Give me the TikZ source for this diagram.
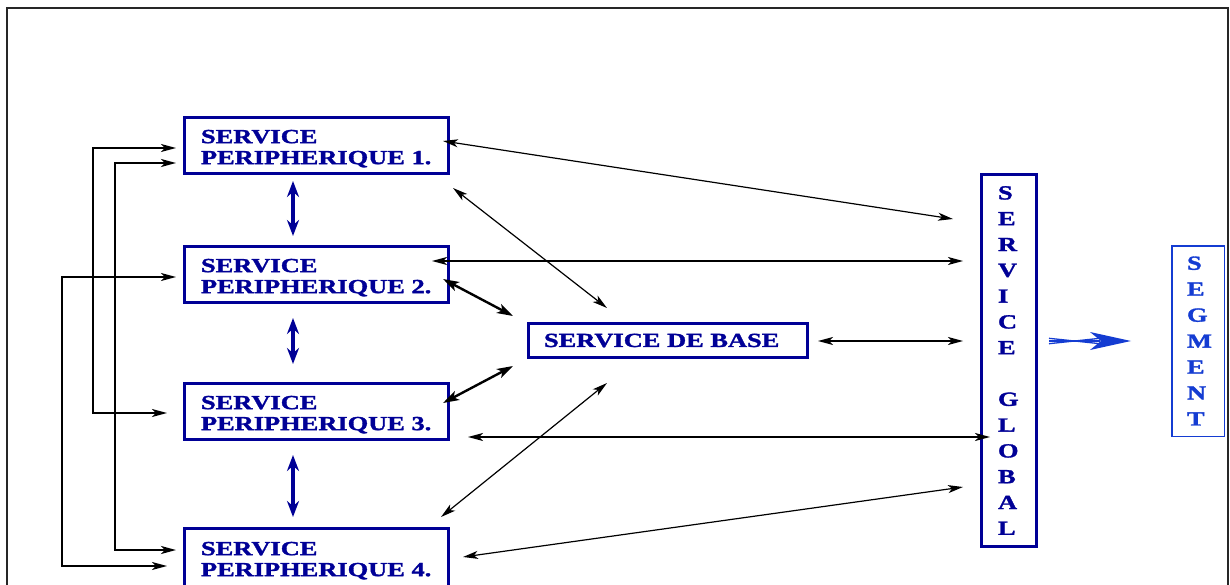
\documentclass[tikz,border=0pt]{standalone}
\usepackage{fontspec}
\font\labelfont="Liberation Serif/B:extend=1.32;embolden=1.6" at 20pt
\usetikzlibrary{arrows.meta}
\definecolor{svcblue}{RGB}{0,0,150}
\definecolor{segblue}{RGB}{20,60,210}
\newcommand\toplift{\rule{0pt}{19.5pt}}
\newcommand\boxtextfont{\labelfont\setlength{\baselineskip}{21pt}}
\newcommand\globtextfont{\labelfont\setlength{\baselineskip}{25.8pt}}
\newcommand\segtextfont{\labelfont\setlength{\baselineskip}{25.95pt}}
\begin{document}
\begin{tikzpicture}[x=1pt,y=-1pt,
  pbox/.style={draw=svcblue, line width=3pt, text=svcblue, inner sep=0pt,
    minimum width=264pt, minimum height=56pt, text width=231pt, align=left,
    anchor=north west, font=\boxtextfont},
  basebox/.style={draw=svcblue, line width=3pt, text=svcblue, inner sep=0pt,
    minimum width=279pt, minimum height=34pt, text width=248pt, align=left,
    anchor=north west, font=\boxtextfont},
  globbox/.style={draw=svcblue, line width=3pt, text=svcblue, inner sep=0pt,
    minimum width=55pt, minimum height=372pt, text width=22pt, align=left,
    anchor=north west, font=\globtextfont},
  segbox/.style={draw=segblue, line width=1.5pt, text=segblue, inner sep=0pt,
    minimum width=52.5pt, minimum height=190.5pt, text width=22pt, align=left,
    anchor=north west, font=\segtextfont},
  link/.style={line width=1.2pt, {Stealth[length=15pt,width=8pt,inset=4pt]}-{Stealth[length=15pt,width=8pt,inset=4pt]}},
  boldlink/.style={line width=2.4pt, {Stealth[length=16pt,width=10pt,inset=4pt]}-{Stealth[length=16pt,width=10pt,inset=4pt]}},
  feed/.style={line width=1.3pt, {Stealth[length=15pt,width=8pt,inset=4pt]}-{Stealth[length=15pt,width=8pt,inset=4pt]}},
  boldfeed/.style={line width=2.2pt, {Stealth[length=15pt,width=8pt,inset=4pt]}-{Stealth[length=15pt,width=8pt,inset=4pt]}},
  stack/.style={draw=svcblue, line width=3.5pt, {Stealth[length=16pt,width=12pt]}-{Stealth[length=16pt,width=12pt]}},
  triple/.style={draw=segblue, line width=1.3pt}
]
\useasboundingbox (0,0) rectangle (1230,585);
\clip (0,0) rectangle (1230,585);

% outer frame (its lower edge lies below the page)
\draw[line width=2pt, black!85] (7,600) -- (7,8) -- (1227.5,8) -- (1227.5,600);

% service boxes
\node[pbox] (p1) at (183,116) {\toplift SERVICE\\PERIPHERIQUE 1.};
\node[pbox] (p2) at (183,245) {\toplift SERVICE\\PERIPHERIQUE 2.};
\node[pbox] (p3) at (183,382) {\toplift SERVICE\\PERIPHERIQUE 3.};
\node[pbox, minimum height=58pt] (p4) at (183,527) {\toplift SERVICE\\PERIPHERIQUE 4.};
\node[basebox] (base) at (527,322) {SERVICE DE BASE};
\node[globbox] (glob) at (980,173) {S\\E\\R\\V\\I\\C\\E\\[25.8pt]G\\L\\O\\B\\A\\L};
\node[segbox] (seg) at (1171,245) {S\\E\\G\\M\\E\\N\\T};

% arrow end points near the boxes
\coordinate (p1a) at (443,141);   \coordinate (g1) at (953,219);
\coordinate (p1b) at (453,188);   \coordinate (b1) at (607,308);
\coordinate (p2a) at (432,261);   \coordinate (g2) at (963,261);
\coordinate (p2b) at (443,279);   \coordinate (b2) at (513,316);
\coordinate (b3) at (513,366);    \coordinate (p3b) at (443,403);
\coordinate (b4) at (607,383);    \coordinate (p4b) at (441,517);
\coordinate (bg) at (818,341);    \coordinate (g3) at (963,341);
\coordinate (p3a) at (468,437);   \coordinate (g4) at (990,437);
\coordinate (p4a) at (463,557);   \coordinate (g5) at (963,487);

% links between services
\draw[link] (p1a) -- (g1);
\draw[link] (p1b) -- (b1);
\draw[link] (p2a) -- (g2);
\draw[boldlink] (p2b) -- (b2);
\draw[boldlink] (b3) -- (p3b);
\draw[link] (b4) -- (p4b);
\draw[link] (bg) -- (g3);
\draw[link] (p3a) -- (g4);
\draw[link] (p4a) -- (g5);

% vertical links between neighbouring peripheral services
\coordinate (s1) at (293,181); \coordinate (s2) at (293,236);
\coordinate (s3) at (293,318); \coordinate (s4) at (293,364);
\coordinate (s5) at (293,455); \coordinate (s6) at (293,517);
\draw[stack] (s1) -- (s2);
\draw[stack] (s3) -- (s4);
\draw[stack] (s5) -- (s6);

% feeder lines on the left
\coordinate (f1a) at (176,148); \coordinate (f3a) at (167,413);
\coordinate (f1b) at (176,163); \coordinate (f4b) at (176,550);
\coordinate (f2c) at (176,277); \coordinate (f4c) at (167,566);
\draw[feed] (f1a) -- (93,148) -- (93,413) -- (f3a);
\draw[boldfeed] (f1b) -- (115,163) -- (115,550) -- (f4b);
\draw[feed] (f2c) -- (62,277) -- (62,566) -- (f4c);

% triple arrow towards the segment
\coordinate (ts) at (1049,341);
\coordinate (tt) at (1131,341);
\draw[triple] ([yshift=-2.7]ts) -- (1100,338.3);
\draw[triple] (ts) -- (1100,341);
\draw[triple] ([yshift=2.7]ts) -- (1100,343.7);
\fill[segblue] (tt) -- (1090,332) -- (1101,341) -- (1090,350) -- cycle;
\end{tikzpicture}
\end{document}
